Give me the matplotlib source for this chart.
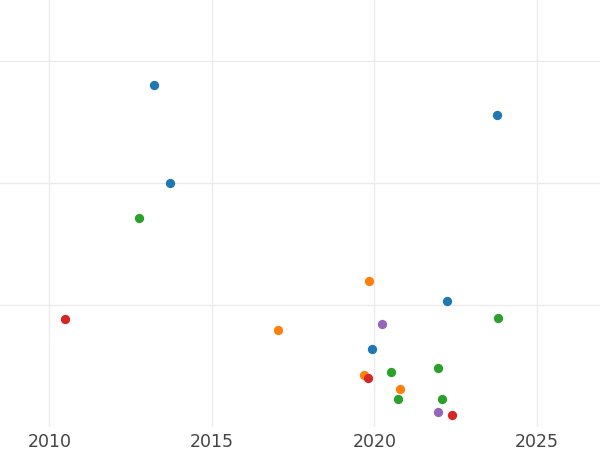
import matplotlib
matplotlib.use("Agg")
import matplotlib.pyplot as plt

blue_x = [2013.22, 2023.78, 2013.71, 2022.23, 2019.93]
blue_y = [2.803, 2.557, 2.000, 1.030, 0.639]
orange_x = [2019.82, 2017.04, 2019.69, 2020.80]
orange_y = [1.194, 0.798, 0.429, 0.311]
green_x = [2012.77, 2023.81, 2020.50, 2021.96, 2020.74, 2022.08]
green_y = [1.713, 0.893, 0.453, 0.484, 0.230, 0.227]
red_x = [2010.47, 2019.81, 2022.38]
red_y = [0.883, 0.402, 0.101]
purple_x = [2020.24, 2021.96]
purple_y = [0.844, 0.126]

series = [
    (blue_x, blue_y, "#1f77b4"),
    (orange_x, orange_y, "#ff7f0e"),
    (green_x, green_y, "#2ca02c"),
    (red_x, red_y, "#d62728"),
    (purple_x, purple_y, "#9467bd"),
]

x_ticks = [2010, 2015, 2020, 2025]
y_ticks = [1, 2, 3]

fig = plt.figure(figsize=(6, 4.5), dpi=100)
ax = fig.add_axes([0, 23 / 450, 1, 427 / 450])

for xs, ys, c in series:
    ax.scatter(xs, ys, s=45, color=c, linewidths=0, zorder=3)

ax.set_xlim(2008.48, 2026.94)
ax.set_ylim(0, 3.5)
ax.set_xticks(x_ticks)
ax.set_xticklabels([str(t) for t in x_ticks])
ax.set_yticks(y_ticks)
ax.set_yticklabels([])
ax.grid(True, color="#ebebeb", linewidth=1.0, zorder=0)
ax.set_axisbelow(True)
for s in ax.spines.values():
    s.set_visible(False)
ax.tick_params(axis="both", length=0, labelsize=12.5, labelcolor="#444444", pad=4)

fig.savefig("out.png", dpi=100)
